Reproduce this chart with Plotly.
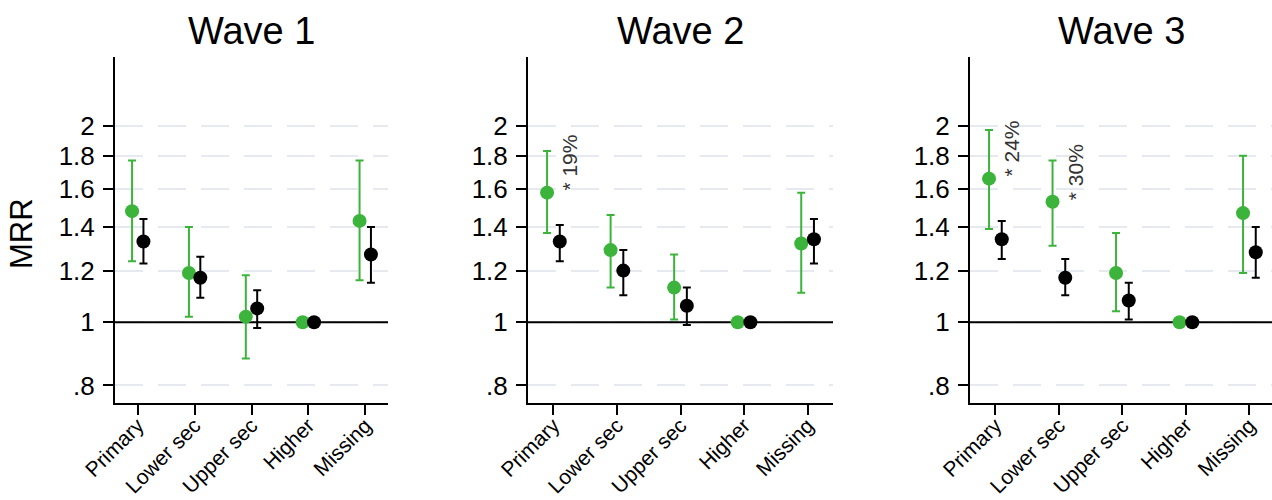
import math
import plotly.graph_objects as go

categories = ["Primary", "Lower sec", "Upper sec", "Higher", "Missing"]
waves = ["Wave 1", "Wave 2", "Wave 3"]

# green series (estimate, lower CI, upper CI) per wave
green_est_w1 = [1.48, 1.19, 1.02, 1.00, 1.43]
green_lo_w1 = [1.24, 1.02, 0.88, 1.00, 1.16]
green_hi_w1 = [1.77, 1.40, 1.18, 1.00, 1.77]
black_est_w1 = [1.33, 1.17, 1.05, 1.00, 1.27]
black_lo_w1 = [1.23, 1.09, 0.98, 1.00, 1.15]
black_hi_w1 = [1.44, 1.26, 1.12, 1.00, 1.40]

green_est_w2 = [1.58, 1.29, 1.13, 1.00, 1.32]
green_lo_w2 = [1.37, 1.13, 1.01, 1.00, 1.11]
green_hi_w2 = [1.83, 1.46, 1.27, 1.00, 1.58]
black_est_w2 = [1.33, 1.20, 1.06, 1.00, 1.34]
black_lo_w2 = [1.24, 1.10, 0.99, 1.00, 1.23]
black_hi_w2 = [1.41, 1.29, 1.13, 1.00, 1.44]

green_est_w3 = [1.66, 1.53, 1.19, 1.00, 1.47]
green_lo_w3 = [1.39, 1.31, 1.04, 1.00, 1.19]
green_hi_w3 = [1.97, 1.77, 1.37, 1.00, 1.80]
black_est_w3 = [1.34, 1.17, 1.08, 1.00, 1.28]
black_lo_w3 = [1.25, 1.10, 1.01, 1.00, 1.17]
black_hi_w3 = [1.43, 1.25, 1.15, 1.00, 1.40]

# annotations: (wave index, category index, label)
notes = [(1, 0, "* 19%"), (2, 0, "* 24%"), (2, 1, "* 30%")]

ytick_vals = [0.8, 1, 1.2, 1.4, 1.6, 1.8, 2]
ytick_text = [".8", "1", "1.2", "1.4", "1.6", "1.8", "2"]

GREEN = "#3cb43c"
FONT = "Liberation Sans, Arial, Helvetica, sans-serif"

data = [
    (green_est_w1, green_lo_w1, green_hi_w1, black_est_w1, black_lo_w1, black_hi_w1),
    (green_est_w2, green_lo_w2, green_hi_w2, black_est_w2, black_lo_w2, black_hi_w2),
    (green_est_w3, green_lo_w3, green_hi_w3, black_est_w3, black_lo_w3, black_hi_w3),
]

W, H = 1272, 500
x_domains = [[115 / W, 388 / W], [528 / W, 833 / W], [970 / W, 1.0]]
x_ranges = [[-0.4, 4.4], [-0.4, 4.4], [-0.4, -0.4 + (1272 - 970) / 63.5]]
y_domain = [1 - 403 / H, 1 - 57 / H]
y_range = [math.log10(0.752), math.log10(2.55)]

fig = go.Figure()
xpos = list(range(len(categories)))

for i, (ge, gl, gh, be, bl, bh) in enumerate(data):
    xa = "x" if i == 0 else f"x{i+1}"
    ya = "y" if i == 0 else f"y{i+1}"
    # reference line at 1
    fig.add_trace(go.Scatter(x=x_ranges[i], y=[1, 1], mode="lines",
                             line=dict(color="black", width=2),
                             xaxis=xa, yaxis=ya, showlegend=False, hoverinfo="skip"))
    fig.add_trace(go.Scatter(
        x=[p - 0.1 for p in xpos], y=ge, mode="markers",
        marker=dict(color=GREEN, size=14),
        error_y=dict(type="data", symmetric=False,
                     array=[h - e for h, e in zip(gh, ge)],
                     arrayminus=[e - l for e, l in zip(ge, gl)],
                     color=GREEN, thickness=2, width=4),
        xaxis=xa, yaxis=ya, showlegend=False))
    fig.add_trace(go.Scatter(
        x=[p + 0.1 for p in xpos], y=be, mode="markers",
        marker=dict(color="black", size=14),
        error_y=dict(type="data", symmetric=False,
                     array=[h - e for h, e in zip(bh, be)],
                     arrayminus=[e - l for e, l in zip(be, bl)],
                     color="black", thickness=2, width=4),
        xaxis=xa, yaxis=ya, showlegend=False))

layout = dict(
    width=W, height=H,
    margin=dict(l=0, r=0, t=0, b=0, autoexpand=False),
    paper_bgcolor="white", plot_bgcolor="white",
    font=dict(family=FONT, color="black"),
    showlegend=False,
)
annotations = []
for i in range(3):
    sx = "" if i == 0 else str(i + 1)
    layout[f"xaxis{sx}"] = dict(
        domain=x_domains[i], range=x_ranges[i], anchor=f"y{sx}",
        tickmode="array", tickvals=xpos, ticktext=categories, tickangle=-45,
        ticks="outside", ticklen=10, tickwidth=2, tickcolor="black",
        showline=True, linecolor="black", linewidth=2,
        showgrid=False, zeroline=False, automargin=False,
        ticklabelstandoff=-10,
        tickfont=dict(size=21, family=FONT, color="black"),
    )
    layout[f"yaxis{sx}"] = dict(
        domain=y_domain, range=y_range, type="log", anchor=f"x{sx}",
        tickmode="array", tickvals=ytick_vals, ticktext=ytick_text,
        ticks="outside", ticklen=10, tickwidth=2, tickcolor="black",
        showline=True, linecolor="black", linewidth=2,
        showgrid=True, gridcolor="#e6e9ef", gridwidth=2, griddash="28px,15px",
        zeroline=False, automargin=False, ticklabelstandoff=3,
        tickfont=dict(size=26, family=FONT, color="black"),
    )
    annotations.append(dict(
        text=waves[i], xref=f"x{sx} domain", yref="paper", x=0.5, y=1 - 31 / H,
        xanchor="center", yanchor="middle", showarrow=False,
        font=dict(size=38, family=FONT, color="black")))

for (wi, ci, label) in notes:
    sx = "" if wi == 0 else str(wi + 1)
    annotations.append(dict(
        text=label, xref=f"x{sx}", yref=f"y{sx}", x=ci + 0.26,
        y=math.log10(data[wi][0][ci]), xanchor="center", yanchor="bottom",
        textangle=-90, showarrow=False,
        font=dict(size=21, family=FONT, color="#333333")))

annotations.append(dict(
    text="MRR", xref="paper", yref="paper", x=21 / W, y=1 - 234 / H,
    xanchor="center", yanchor="middle", textangle=-90, showarrow=False,
    font=dict(size=31, family=FONT, color="black")))

layout["annotations"] = annotations
fig.update_layout(**layout)
fig.write_html("out.html")
